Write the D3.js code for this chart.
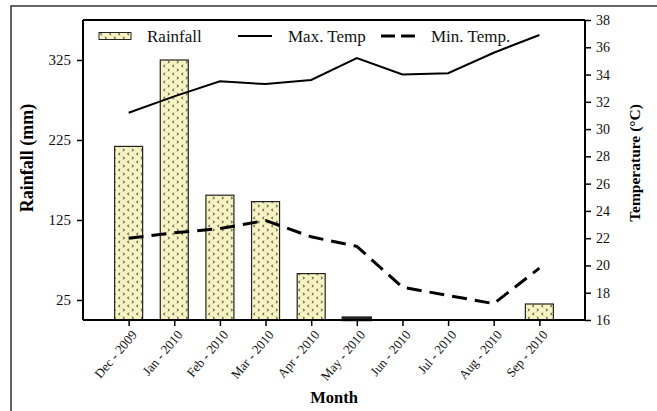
<!DOCTYPE html>
<html>
<head>
<meta charset="utf-8">
<script src="https://cdn.jsdelivr.net/npm/d3@7"></script>
<style>
  html, body { margin: 0; padding: 0; background: #fff; }
  svg { display: block; font-family: "Liberation Serif", "Times New Roman", serif; }
</style>
</head>
<body>
<svg id="chart" width="657" height="411"></svg>
<script>
// Monthly rainfall and temperature, Dec 2009 – Sep 2010
const months = ["Dec - 2009", "Jan - 2010", "Feb - 2010", "Mar - 2010", "Apr - 2010",
                "May - 2010", "Jun - 2010", "Jul - 2010", "Aug - 2010", "Sep - 2010"];
const rainfall = [217, 325, 156, 148, 58, 3, 0, 0, 0, 20];
const maxTemp  = [31.2, 32.4, 33.5, 33.3, 33.6, 35.2, 34.0, 34.1, 35.6, 36.9];
const minTemp  = [22.0, 22.4, 22.7, 23.3, 22.1, 21.4, 18.4, 17.8, 17.2, 19.8];
const rainTicks = [25, 125, 225, 325];
const tempTicks = [16, 18, 20, 22, 24, 26, 28, 30, 32, 34, 36, 38];

const svg = d3.select("#chart");
const L = 83, R = 585, T = 20, B = 320;

const x  = d3.scalePoint().domain(months).range([L, R]).padding(1);
const yL = d3.scaleLinear().domain([0, 375]).range([B, T]);
const yR = d3.scaleLinear().domain([16, 38]).range([B, T]);

// outer frame
svg.append("rect").attr("x", 11).attr("y", 6).attr("width", 700).attr("height", 500)
  .attr("fill", "none").attr("stroke", "#333").attr("stroke-width", 1.5);

// chevron fill for rainfall bars
const defs = svg.append("defs");
const pat = defs.append("pattern").attr("id", "rainPat").attr("patternUnits", "userSpaceOnUse")
  .attr("width", 9).attr("height", 8);
pat.append("rect").attr("width", 9).attr("height", 8).attr("fill", "#f8f4c2");
pat.append("path").attr("d", "M3.2,0.8 L1.4,2 L3.2,3.2").attr("fill", "none").attr("stroke", "#444").attr("stroke-width", 0.9);
pat.append("path").attr("d", "M5.8,4.8 L7.6,6 L5.8,7.2").attr("fill", "none").attr("stroke", "#444").attr("stroke-width", 0.9);

// bars
const bw = 28;
svg.append("g").selectAll("rect").data(rainfall).join("rect")
  .attr("x", (d, i) => x(months[i]) - bw / 2)
  .attr("y", d => yL(d))
  .attr("width", bw)
  .attr("height", d => B - yL(d))
  .attr("fill", "url(#rainPat)")
  .attr("stroke", d => d > 0 ? "#222" : "none")
  .attr("stroke-width", d => d < 10 ? 2.5 : 1.2);

// temperature lines
const line = d3.line().x((d, i) => x(months[i])).y(d => yR(d));
svg.append("path").datum(maxTemp).attr("d", line)
  .attr("fill", "none").attr("stroke", "#000").attr("stroke-width", 2);
svg.append("path").datum(minTemp).attr("d", line)
  .attr("fill", "none").attr("stroke", "#000").attr("stroke-width", 3)
  .attr("stroke-dasharray", "15,8");

// axes
const gL = svg.append("g").attr("transform", `translate(${L},0)`)
  .call(d3.axisLeft(yL).tickValues(rainTicks).tickSize(6).tickSizeOuter(0));
const gR = svg.append("g").attr("transform", `translate(${R},0)`)
  .call(d3.axisRight(yR).tickValues(tempTicks).tickSize(6).tickSizeOuter(0));
const gB = svg.append("g").attr("transform", `translate(0,${B})`)
  .call(d3.axisBottom(x).tickSize(6).tickSizeOuter(0));

[gL, gR, gB].forEach(g => {
  g.select(".domain").attr("stroke", "#000").attr("stroke-width", 2);
  g.selectAll(".tick line").attr("stroke", "#000").attr("stroke-width", 1.5);
  g.selectAll("text").attr("font-family", "Liberation Serif, serif").attr("fill", "#111");
});
gL.select(".domain").attr("d", `M0,${T}V${B}`);
gR.select(".domain").attr("d", `M0,${T}V${B}`);
gB.select(".domain").attr("d", `M${L},0H${R}`);
gL.selectAll("text").attr("font-size", 15).attr("x", -12);
gR.selectAll("text").attr("font-size", 14).attr("x", 11);
gB.selectAll("text").attr("font-size", 13)
  .attr("text-anchor", "end")
  .attr("transform", "translate(5,12) rotate(-50)")
  .attr("x", 0).attr("y", 0).attr("dy", "0.35em");

// top frame line
svg.append("line").attr("x1", L).attr("x2", R).attr("y1", T).attr("y2", T)
  .attr("stroke", "#000").attr("stroke-width", 2);

// axis titles
svg.append("text").attr("transform", "translate(33,158) rotate(-90)")
  .attr("text-anchor", "middle").attr("font-weight", "bold").attr("font-size", 18)
  .text("Rainfall (mm)");
svg.append("text").attr("transform", "translate(640,163) rotate(-90)")
  .attr("text-anchor", "middle").attr("font-weight", "bold").attr("font-size", 15.5)
  .text("Temperature (°C)");
svg.append("text").attr("x", (L + R) / 2).attr("y", 403)
  .attr("text-anchor", "middle").attr("font-weight", "bold").attr("font-size", 16.5)
  .text("Month");

// legend
const lg = svg.append("g").attr("font-size", 17).attr("fill", "#111");
lg.append("rect").attr("x", 99).attr("y", 32.5).attr("width", 32).attr("height", 7)
  .attr("fill", "url(#rainPat)").attr("stroke", "#222").attr("stroke-width", 1);
lg.append("text").attr("x", 147).attr("y", 41.5).text("Rainfall");
lg.append("line").attr("x1", 238).attr("x2", 272).attr("y1", 36).attr("y2", 36)
  .attr("stroke", "#000").attr("stroke-width", 2);
lg.append("text").attr("x", 288).attr("y", 41.5).text("Max. Temp");
lg.append("line").attr("x1", 381).attr("x2", 415).attr("y1", 36).attr("y2", 36)
  .attr("stroke", "#000").attr("stroke-width", 3).attr("stroke-dasharray", "14,6");
lg.append("text").attr("x", 431).attr("y", 41.5).text("Min. Temp.");
</script>
</body>
</html>
